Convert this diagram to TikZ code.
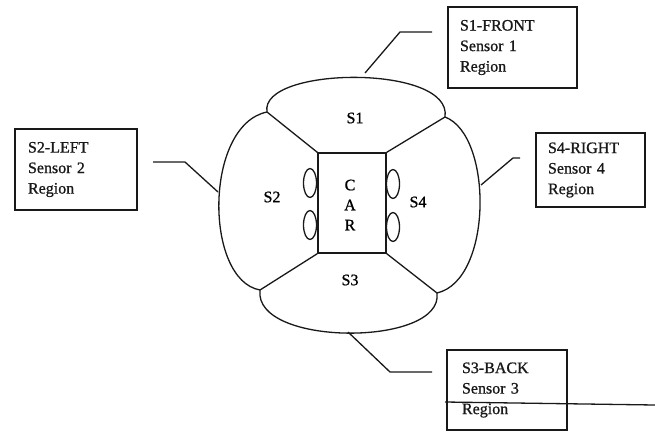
\documentclass[tikz,border=0pt]{standalone}
\usepackage{fontspec}
\setmainfont{Liberation Serif}
\newfontfamily\scanfont[FakeBold=0.9]{Liberation Serif}
\usetikzlibrary{shapes.geometric}
\begin{document}
\begin{tikzpicture}[x=1pt,y=-1pt,
  ln/.style={line width=1.3pt, black!90},
  sbox/.style={draw, line width=1.3pt, black!90, align=left, inner ysep=4pt,
     font=\scanfont\fontsize{16}{20.5}\selectfont},
  lbl/.style={font=\scanfont\fontsize{16}{20}\selectfont, inner sep=0pt},
  wheel/.style={draw, line width=1.3pt, black!90, ellipse, minimum width=13pt, minimum height=29pt, inner sep=0pt}]
\useasboundingbox (0,0) rectangle (655,434);
\fill[white] (0,0) rectangle (655,434);

% outer region corners
\coordinate (tl) at (267,112);
\coordinate (tr) at (445,117);
\coordinate (bl) at (260,290);
\coordinate (br) at (437,293);

% car
\node[draw, line width=1.3pt, black!90, minimum width=68pt, minimum height=100pt, inner sep=0pt] (car) at (352,203) {};
\node[lbl, align=center] (cartext) at (350,205) {C\\A\\R};

% wheels
\node[wheel] (wlu) at (310,183) {};
\node[wheel] (wll) at (310,225) {};
\node[wheel] (wru) at (393,184) {};
\node[wheel] (wrl) at (393,227) {};

% region arcs
\draw[ln] (tl) .. controls (259,66) and (453,64) .. (tr);
\draw[ln] (tl) .. controls (204,125) and (204,280) .. (bl);
\draw[ln] (tr) .. controls (493,135) and (493,280) .. (br);
\draw[ln] (bl) .. controls (253,347) and (444,347) .. (br);

% dividers
\draw[ln] (tl) -- (car.north west);
\draw[ln] (tr) -- (car.north east);
\draw[ln] (bl) -- (car.south west);
\draw[ln] (br) -- (car.south east);

% region labels
\node[lbl] (s1) at (355,118) {S1};
\node[lbl] (s2) at (272,197) {S2};
\node[lbl] (s3) at (350,280) {S3};
\node[lbl] (s4) at (418,202) {S4};

% boxes
\node[sbox, text width=105pt, inner xsep=12pt, minimum height=81pt] (b1) at (512.5,47.5) {S1-FRONT\\Sensor 1\\Region};
\node[sbox, text width=96pt, inner xsep=13pt, minimum height=81pt] (b2) at (76,169.5) {S2-LEFT\\Sensor 2\\Region};
\node[sbox, text width=85pt, inner xsep=12pt, minimum height=74pt] (b4) at (590.5,170) {S4-RIGHT\\Sensor 4\\Region};
\node[sbox, text width=90pt, inner xsep=15pt, minimum height=80pt] (b3) at (507,390) {S3-BACK\\Sensor 3\\Region};

% connectors
\coordinate (p1) at (365,73); \coordinate (q1) at (400,32); \coordinate (r1) at (432,32);
\draw[ln] (p1) -- (q1) -- (r1);
\coordinate (p2) at (218,192); \coordinate (q2) at (185,162); \coordinate (r2) at (153,162);
\draw[ln] (p2) -- (q2) -- (r2);
\coordinate (p4) at (481,185); \coordinate (q4) at (513,158); \coordinate (r4) at (520,158);
\draw[ln] (p4) -- (q4) -- (r4);
\coordinate (p3) at (348,332); \coordinate (q3) at (390,372); \coordinate (r3) at (432,372);
\draw[ln] (p3) -- (q3) -- (r3);

% stray line across S3 box
\coordinate (sa) at (445,402); \coordinate (sb) at (655,405);
\draw[ln] (sa) -- (sb);
\end{tikzpicture}
\end{document}
